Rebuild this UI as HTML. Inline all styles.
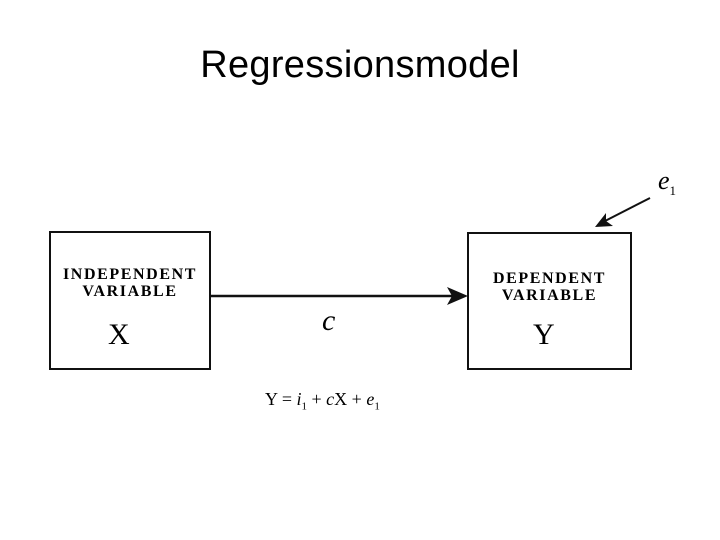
<!DOCTYPE html>
<html><head><style>
body{margin:0;width:720px;height:540px;background:#fff;overflow:hidden;position:relative;font-family:"Liberation Serif",serif}
.t{position:absolute;left:0;width:720px;top:44px;text-align:center;font-family:"Liberation Sans",sans-serif;font-size:38px;color:#000;letter-spacing:0.3px}
.box{position:absolute;border:2px solid #111;box-sizing:border-box}
.lbl{position:absolute;font-weight:bold;font-size:16px;letter-spacing:1.6px;text-align:center;line-height:17px}
.big{position:absolute;font-size:30px}
</style></head><body>
<div class="t">Regressionsmodel</div>
<div class="box" style="left:49px;top:231px;width:162px;height:139px"></div>
<div class="box" style="left:467px;top:232px;width:165px;height:138px"></div>
<div class="lbl" style="left:49px;top:266px;width:162px">INDEPENDENT<br>VARIABLE</div>
<div class="lbl" style="left:467px;top:270px;width:165px">DEPENDENT<br>VARIABLE</div>
<div class="big" style="left:108px;top:318px">X</div>
<div class="big" style="left:533px;top:318px">Y</div>
<div class="big" style="left:322px;top:304px;font-style:italic">c</div>
<div style="position:absolute;left:265px;top:389px;font-size:18px">Y = <i>i</i><sub style="font-size:11px">1</sub> + <i>c</i>X + <i>e</i><sub style="font-size:11px">1</sub></div>
<div style="position:absolute;left:658px;top:166px;font-size:26px;font-style:italic">e<sub style="font-size:13px;font-style:normal">1</sub></div>
<svg width="720" height="540" style="position:absolute;left:0;top:0">
<line x1="211" y1="296" x2="455" y2="296" stroke="#111" stroke-width="2.5"/>
<polygon points="468,296 447,287 452,296 447,305" fill="#111"/>
<line x1="650" y1="198" x2="605" y2="221" stroke="#111" stroke-width="2"/>
<polygon points="595,227 606,213 606,221 613,226" fill="#111"/>
</svg>
</body></html>
